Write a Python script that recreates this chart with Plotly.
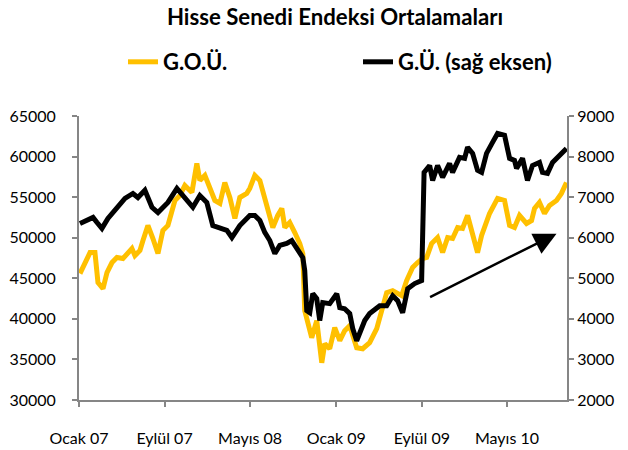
import plotly.graph_objects as go
import pandas as pd

# ---- data (months since Ocak 2007) ----
gou_month = [0.09, 0.56, 1.03, 1.49, 1.77, 2.24, 2.61, 3.08, 3.54, 4.10, 4.57, 4.94, 5.22, 5.69, 5.97,
             6.43, 6.90, 7.37, 7.83, 8.30, 8.95, 9.42, 9.88, 10.54, 11.00, 11.28, 11.75, 12.21, 12.68,
             13.15, 13.61, 14.08, 14.55, 15.01, 15.66, 15.94, 16.41, 16.88, 17.34, 17.81, 18.09, 18.55,
             18.93, 19.21, 19.67, 20.14, 20.61, 20.89, 21.07, 21.72, 22.19, 22.66, 22.94, 23.40, 23.87,
             24.34, 24.80, 25.27, 25.92, 26.48, 27.13, 27.79, 28.25, 28.72, 29.28, 30.12, 30.58, 31.14,
             31.61, 32.07, 32.45, 32.91, 33.47, 33.94, 34.41, 34.87, 35.34, 35.80, 36.27, 36.74, 37.20,
             37.58, 37.86, 38.32, 39.07, 39.72, 40.19, 40.65, 41.12, 41.77, 42.24, 42.52, 42.98, 43.45,
             43.92, 44.57, 45.03, 45.50]
gou_value = [45580, 46940, 48170, 48170, 44470, 43730, 45700, 46940, 47560, 47430, 48170, 48670, 47800,
             48420, 49650, 51510, 49900, 48050, 50890, 51510, 54590, 55210, 56440, 55580, 59160, 57060,
             57680, 56200, 54590, 54220, 56810, 54960, 52370, 54960, 55460, 56070, 57680, 57060, 54960,
             52990, 51260, 52740, 53600, 51260, 51880, 50640, 49280, 48050, 41010, 37680, 39780, 34590,
             36940, 36320, 38910, 37310, 38540, 39160, 36440, 36320, 37060, 38790, 41010, 43230, 43480,
             42860, 44720, 46320, 46940, 47430, 47560, 49280, 50020, 48170, 50020, 49900, 51260, 51140,
             52740, 50520, 48170, 50270, 51260, 52990, 54840, 54590, 51510, 51260, 52740, 51750, 52120,
             53600, 54350, 52990, 53980, 54590, 55460, 56810]

gu_month = [0.09, 0.65, 1.31, 1.68, 2.14, 2.70, 3.17, 3.64, 4.29, 5.03, 5.50, 6.15, 6.81, 7.37, 7.83,
            8.30, 9.14, 9.70, 10.16, 10.63, 11.28, 11.93, 12.49, 13.15, 13.80, 14.27, 15.01, 15.94,
            16.41, 16.88, 17.34, 17.81, 18.28, 18.74, 19.39, 19.86, 20.33, 20.89, 21.07, 21.26, 21.54,
            21.82, 22.19, 22.47, 22.75, 23.40, 24.06, 24.34, 24.80, 25.27, 25.55, 25.92, 26.67, 27.13,
            28.07, 28.72, 29.28, 29.74, 30.21, 30.68, 31.33, 31.98, 32.21, 32.73, 33.01, 33.47, 33.94,
            34.59, 34.87, 35.52, 35.99, 36.27, 36.74, 37.20, 37.58, 38.04, 38.60, 39.07, 39.72, 40.19,
            40.65, 40.84, 41.40, 41.86, 42.33, 42.98, 43.26, 43.73, 44.20, 44.85, 45.50]
gu_value = [6350, 6425, 6500, 6375, 6230, 6475, 6620, 6750, 6970, 7090, 6990, 7170, 6750, 6620, 6750,
            6870, 7215, 7040, 6920, 6750, 7040, 6870, 6300, 6250, 6180, 6005, 6300, 6550, 6550, 6425,
            6130, 5930, 5610, 5810, 5860, 5930, 5730, 5510, 5190, 4200, 4150, 4620, 4500, 3960, 4400,
            4375, 4620, 4275, 4250, 4130, 3760, 3460, 3960, 4130, 4325, 4325, 4570, 4450, 4150, 4745,
            4870, 4945, 7610, 7780, 7410, 7780, 7490, 7830, 7610, 7980, 7955, 8230, 8080, 7660, 7610,
            8080, 8350, 8570, 8525, 7955, 7905, 7710, 7955, 7410, 7780, 7855, 7610, 7585, 7855, 8030,
            8200]

tick_months = [0, 8, 16, 24, 32, 40]
tick_labels = ["Ocak 07", "Eylül 07", "Mayıs 08", "Ocak 09", "Eylül 09", "Mayıs 10"]
x_end_month = 45.55

# trend arrow (months, right-axis value)
arrow_tail = (32.63, 4520)
arrow_head = (44.57, 6100)

START = pd.Timestamp("2007-01-01")


def m2d(m):
    return START + pd.Timedelta(days=m * 30.4375)


YELLOW = "#FFC000"
GREY = "#868686"
FONT = "Lato"

fig = go.Figure()
fig.add_trace(go.Scatter(
    x=[m2d(m) for m in gou_month], y=gou_value, name="G.O.Ü.", mode="lines",
    line=dict(color=YELLOW, width=5), yaxis="y"))
fig.add_trace(go.Scatter(
    x=[m2d(m) for m in gu_month], y=gu_value, name="G.Ü. (sağ eksen)", mode="lines",
    line=dict(color="#000000", width=5), yaxis="y2"))

fig.add_annotation(
    x=m2d(arrow_head[0]), y=arrow_head[1], xref="x", yref="y2",
    ax=m2d(arrow_tail[0]), ay=arrow_tail[1], axref="x", ayref="y2",
    text="", showarrow=True, arrowhead=2, arrowsize=1.8, arrowwidth=2.5, arrowcolor="#000000")

fig.update_layout(
    width=628, height=450,
    margin=dict(l=79, r=61, t=116, b=50, autoexpand=False),
    paper_bgcolor="white", plot_bgcolor="white",
    font=dict(family=FONT, size=16, color="#000000"),
    title=dict(text="<b>Hisse Senedi Endeksi Ortalamaları</b>", x=335 / 628, xanchor="center",
               y=1 - 17 / 450, yanchor="middle", yref="container", xref="container",
               font=dict(family=FONT, size=22.2, color="#000000")),
    showlegend=True,
    legend=dict(orientation="h", xref="container", yref="container",
                x=123 / 628, xanchor="left", y=1 - 62 / 450, yanchor="middle",
                entrywidth=190, entrywidthmode="pixels", itemwidth=30,
                font=dict(family=FONT, size=22, color="#000000", weight="bold"),
                bgcolor="rgba(0,0,0,0)"),
    xaxis=dict(
        type="date", range=[START, m2d(x_end_month)],
        tickvals=[START + pd.DateOffset(months=m) for m in tick_months], ticktext=tick_labels,
        showline=True, linecolor=GREY, linewidth=2, ticks="outside", tickcolor=GREY,
        ticklen=5, tickwidth=2, ticklabelstandoff=18, showgrid=False, zeroline=False,
        tickfont=dict(size=16)),
    yaxis=dict(
        range=[30000, 65000], dtick=5000, tickformat="d",
        showline=True, linecolor=GREY, linewidth=2, ticks="outside", tickcolor=GREY,
        ticklen=5, tickwidth=2, ticklabelstandoff=13, showgrid=False, zeroline=False,
        tickfont=dict(size=16)),
    yaxis2=dict(
        range=[2000, 9000], dtick=1000, tickformat="d", overlaying="y", side="right",
        showline=True, linecolor=GREY, linewidth=2, ticks="outside", tickcolor=GREY,
        ticklen=5, tickwidth=2, ticklabelstandoff=0, showgrid=False, zeroline=False,
        tickfont=dict(size=16)),
)

fig.write_html("out.html", config={"displayModeBar": False},
               post_script="document.body.style.margin='0';")
